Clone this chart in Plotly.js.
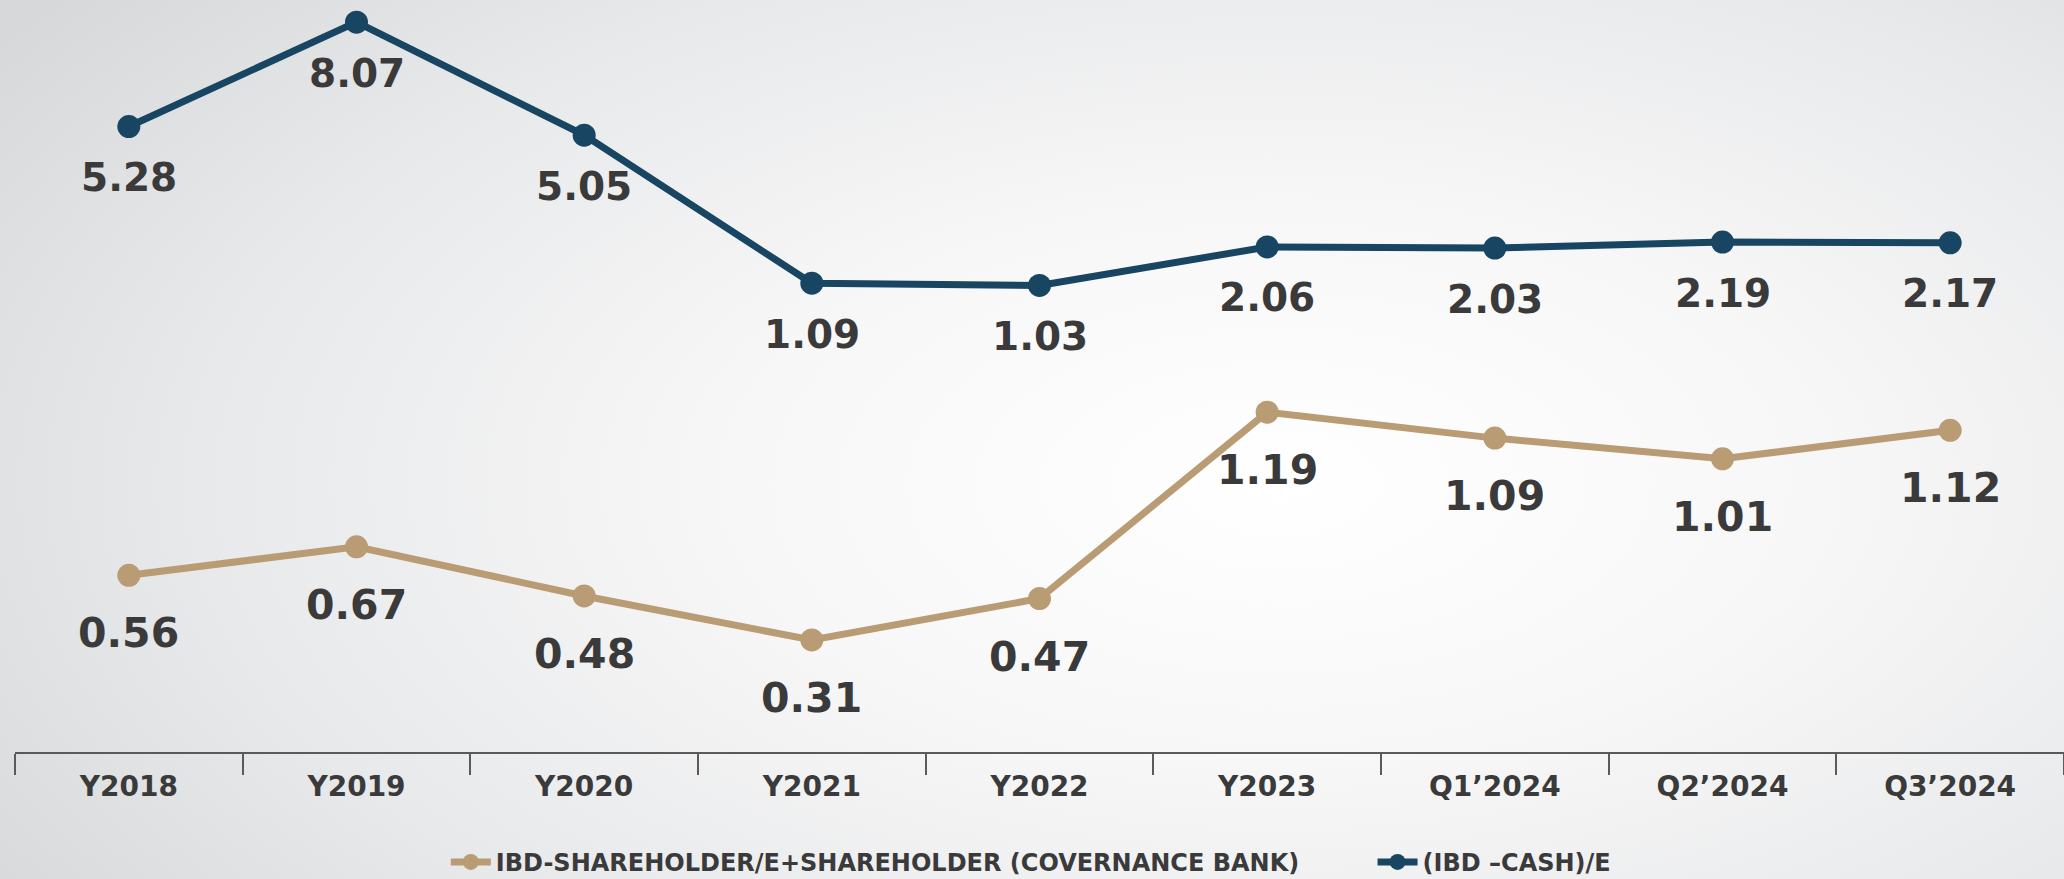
<!DOCTYPE html>
<html>
<head>
<meta charset="utf-8">
<script src="https://cdn.plot.ly/plotly-3.0.1.min.js"></script>
<style>
html, body { margin:0; padding:0; width:2064px; height:879px; overflow:hidden;
  background: radial-gradient(ellipse 75% 90% at 62% 55%, #ffffff 0%, #f7f7f8 35%, #e8e9ea 70%, #d7d8da 100%); }
#chart { width:2064px; height:879px; }
</style>
</head>
<body>
<div id="chart"></div>
<script>
const categories = ["Y2018","Y2019","Y2020","Y2021","Y2022","Y2023","Q1\u20192024","Q2\u20192024","Q3\u20192024"];
const shareholderName = "IBD-SHAREHOLDER/E+SHAREHOLDER (COVERNANCE BANK)";
const shareholderValues = [0.56, 0.67, 0.48, 0.31, 0.47, 1.19, 1.09, 1.01, 1.12];
const cashName = "(IBD \u2013CASH)/E";
const cashValues = [5.28, 8.07, 5.05, 1.09, 1.03, 2.06, 2.03, 2.19, 2.17];

const gold = "#b99b74";
const navy = "#174562";
const labelColor = "#3a3a3b";

const traces = [
  { x: categories, y: shareholderValues, name: shareholderName, type: "scatter", mode: "lines+markers",
    yaxis: "y", legend: "legend", line: { color: gold, width: 7 }, marker: { color: gold, size: 23 }, hoverinfo: "skip" },
  { x: categories, y: cashValues, name: cashName, type: "scatter", mode: "lines+markers",
    yaxis: "y2", legend: "legend2", line: { color: navy, width: 7 }, marker: { color: navy, size: 23 }, hoverinfo: "skip" }
];

const annotations = [];
categories.forEach((c, i) => {
  annotations.push({ x: c, y: shareholderValues[i], xref: "x", yref: "y", text: shareholderValues[i].toFixed(2),
    showarrow: false, yshift: -58, font: { family: "DejaVu Sans", size: 41, color: labelColor, weight: 700 } });
  annotations.push({ x: c, y: cashValues[i], xref: "x", yref: "y2", text: cashValues[i].toFixed(2),
    showarrow: false, yshift: -51, font: { family: "DejaVu Sans", size: 39, color: labelColor, weight: 700 } });
});

const legendFont = { family: "DejaVu Sans", size: 24, color: labelColor, weight: 700 };

const layout = {
  width: 2064, height: 879,
  margin: { l: 15, r: 0, t: 0, b: 127 },
  paper_bgcolor: "rgba(0,0,0,0)", plot_bgcolor: "rgba(0,0,0,0)",
  showlegend: true,
  legend: { orientation: "h", xref: "container", yref: "container", x: 0.216, xanchor: "left", y: 0.019, yanchor: "middle",
    font: legendFont, itemwidth: 40, bgcolor: "rgba(0,0,0,0)" },
  legend2: { orientation: "h", xref: "container", yref: "container", x: 0.665, xanchor: "left", y: 0.019, yanchor: "middle",
    font: legendFont, itemwidth: 40, bgcolor: "rgba(0,0,0,0)" },
  xaxis: { type: "category", range: [-0.5, 8.5], showgrid: false, zeroline: false,
    showline: true, linecolor: "#5a5a5a", linewidth: 2,
    ticks: "outside", tickson: "boundaries", ticklen: 21, tickwidth: 2, tickcolor: "#5a5a5a",
    ticklabelstandoff: 8,
    tickfont: { family: "DejaVu Sans", size: 28, color: labelColor, weight: 700 } },
  yaxis: { range: [-0.123, 2.783], visible: false, showgrid: false, zeroline: false },
  yaxis2: { range: [-11.444, 8.663], overlaying: "y", visible: false, showgrid: false, zeroline: false },
  annotations: annotations
};

Plotly.newPlot("chart", traces, layout, { staticPlot: true, displayModeBar: false });
</script>
</body>
</html>
